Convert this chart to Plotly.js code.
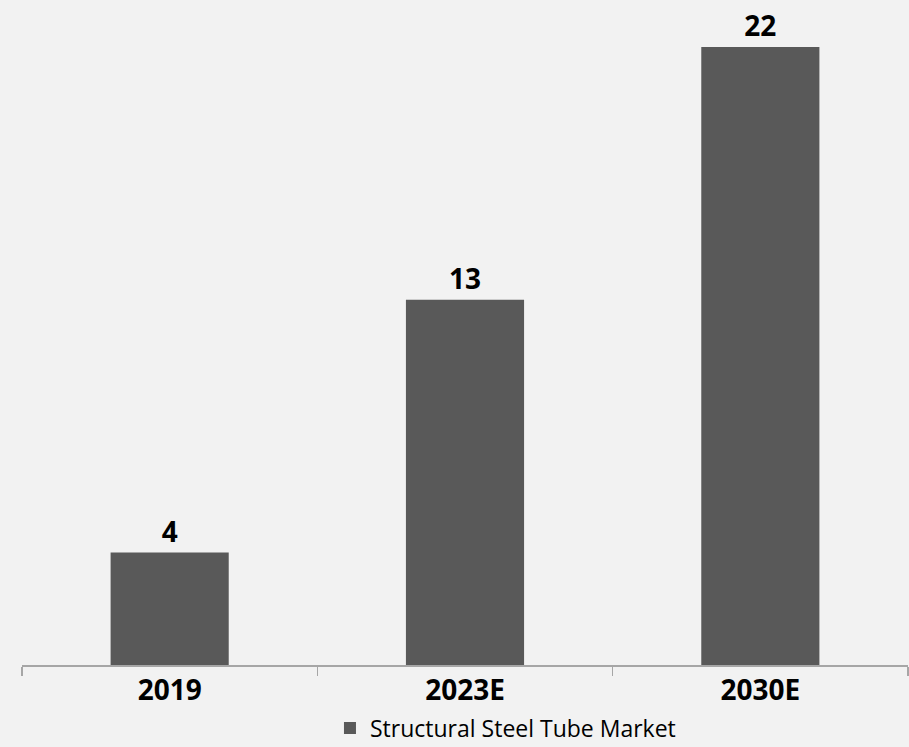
<!DOCTYPE html>
<html>
<head>
<meta charset="utf-8">
<script src="https://cdn.plot.ly/plotly-3.0.1.min.js"></script>
<style>html,body{margin:0;padding:0;background:#f2f2f2;}#chart{width:909px;height:747px;}</style>
</head>
<body>
<div id="chart"></div>
<script>
const categories = ["2019", "2023E", "2030E"];
const marketValues = [4, 13, 22];
const seriesName = "Structural Steel Tube Market";

const trace = {
  type: "bar",
  x: categories,
  y: marketValues,
  name: seriesName,
  marker: {color: "#595959"},
  text: marketValues.map(String),
  textposition: "outside",
  textfont: {family: "Open Sans, sans-serif", size: 28, color: "#000000", weight: "bold"},
  cliponaxis: false,
  hoverinfo: "x+y"
};

const layout = {
  width: 909,
  height: 747,
  paper_bgcolor: "#f2f2f2",
  plot_bgcolor: "#f2f2f2",
  margin: {l: 22, r: 1, t: 0, b: 82, autoexpand: false},
  bargap: 0.6,
  showlegend: true,
  legend: {
    orientation: "h",
    x: 0.3476, xanchor: "left",
    xref: "paper",
    yref: "container",
    y: 0.054, yanchor: "top",
    font: {family: "Open Sans, sans-serif", size: 23, color: "#000000"},
    bgcolor: "rgba(0,0,0,0)"
  },
  xaxis: {
    type: "category",
    showline: true,
    linecolor: "#a6a6a6",
    linewidth: 1.5,
    ticks: "outside",
    tickson: "boundaries",
    ticklen: 9,
    tickcolor: "#a6a6a6",
    tickwidth: 1.5,
    tickfont: {family: "Open Sans, sans-serif", size: 28, color: "#000000", weight: "bold"},
    showgrid: false,
    zeroline: false,
    fixedrange: true
  },
  yaxis: {
    visible: false,
    range: [0, 23.67],
    showgrid: false,
    zeroline: false,
    fixedrange: true
  }
};

Plotly.newPlot("chart", [trace], layout, {displayModeBar: false, staticPlot: true});
</script>
</body>
</html>
